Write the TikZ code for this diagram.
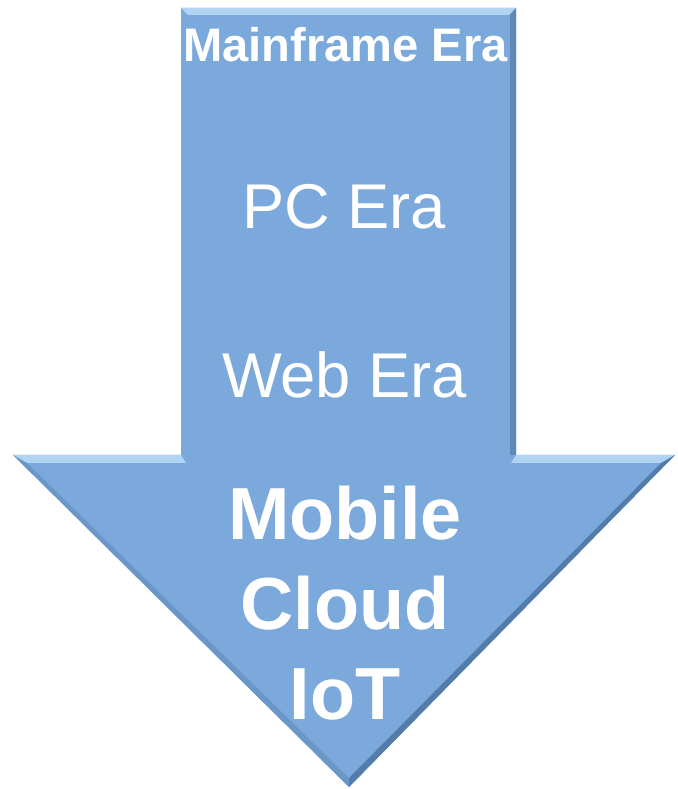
\documentclass[tikz,border=0pt]{standalone}
\usepackage{fontspec}
\setmainfont{Liberation Sans}
\usetikzlibrary{positioning, calc}

\definecolor{arrowblue}{RGB}{123,169,220}
\definecolor{edgelight}{RGB}{178,212,243}
\definecolor{edgedark}{RGB}{84,124,170}

\begin{document}
\begin{tikzpicture}[every node/.style={text=white, align=center, inner sep=0pt}]

	\useasboundingbox (0,0) rectangle (6.77,7.89);

	% Outline points of the arrow
	\coordinate (tl) at (1.81,7.81);
	\coordinate (tr) at (5.16,7.81);
	\coordinate (sr) at (5.16,3.34);
	\coordinate (hr) at (6.75,3.34);
	\coordinate (tip) at (3.49,0.02);
	\coordinate (hl) at (0.13,3.34);
	\coordinate (sl) at (1.81,3.34);

	% Arrow body
	\fill[arrowblue] (tl) -- (tr) -- (sr) -- (hr) -- (tip) -- (hl) -- (sl) -- cycle;

	% Bevel: light top edges
	\fill[edgelight] (tl) -- (tr) -- ++(-0.07,-0.07) -- ($(tl)+(0.07,-0.07)$) -- cycle;
	\fill[edgelight] (sr) -- (hr) -- ++(-0.12,-0.08) -- ($(sr)+(-0.05,-0.08)$) -- cycle;
	\fill[edgelight] (hl) -- (sl) -- ++(0.05,-0.08) -- ($(hl)+(0.12,-0.08)$) -- cycle;
	% Bevel: dark right and lower edges
	\fill[edgedark!70!arrowblue] (tr) -- (sr) -- ++(-0.06,0) -- ($(tr)+(-0.06,-0.07)$) -- cycle;
	\fill[edgedark] (hr) -- (tip) -- ++(0,0.09) -- ($(hr)+(-0.14,-0.08)$) -- cycle;
	\fill[edgedark!40!arrowblue] (hl) -- (tip) -- ++(0,0.09) -- ($(hl)+(0.14,-0.08)$) -- cycle;

	% Era labels
	\node[font=\fontsize{13.4}{16}\selectfont\bfseries] (mainframe) at (3.455,7.44) {Mainframe Era};
	\node[font=\fontsize{18}{21}\selectfont] (pc) at (3.44,5.82) {PC Era};
	\node[font=\fontsize{18}{21}\selectfont] (web) at (3.445,4.14) {Web Era};
	\node[font=\fontsize{21}{25.6}\selectfont\bfseries] (mobile) at (3.45,1.86) {Mobile\\Cloud\\IoT};

\end{tikzpicture}
\end{document}
